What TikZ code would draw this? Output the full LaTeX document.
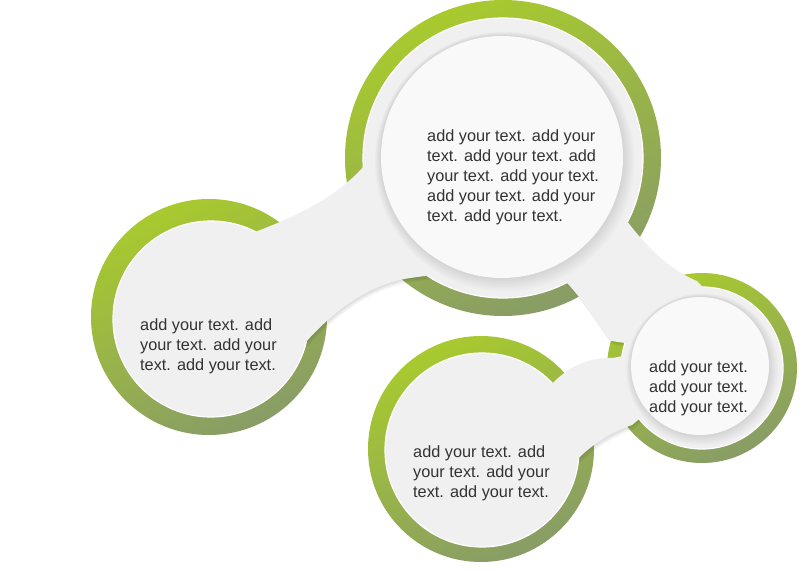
\documentclass[tikz,border=0pt]{standalone}
\usepackage{fontspec}
\setmainfont{Liberation Sans}
\definecolor{gA}{RGB}{168,202,46}
\definecolor{gB}{RGB}{136,156,102}
\definecolor{paper}{RGB}{240,240,240}
\definecolor{disc}{RGB}{249,249,249}
\definecolor{ink}{RGB}{51,51,51}
\tikzset{
  ring/.style={top color=gA, bottom color=gB, shading angle=25},
  lightdisc/.style={fill=paper, draw=white, line width=1.2pt},
  bandfill/.style={fill=paper},
  bandshadow/.style={fill=black, fill opacity=0.045},
  txt/.style={text=ink, align=left, anchor=west, inner sep=0pt,
              font=\fontsize{16.3}{19.9}\selectfont},
}
\newcommand\bandA{(245,236) .. controls (280,222) and (330,205) .. (365,165) -- (440,190) -- (455,272) -- (410,278) .. controls (365,285) and (330,315) .. (305,343) -- (250,300) -- cycle}
\newcommand\bandB{(600,200) -- (615,205) .. controls (640,240) and (665,268) .. (697,281) -- (715,300) -- (640,345) -- (611,341) .. controls (600,330) and (585,300) .. (562,278) -- (560,250) -- cycle}
\newcommand\bandC{(545,392) .. controls (565,366) and (590,357) .. (613,358) -- (650,350) -- (650,410) -- (632,425) .. controls (610,433) and (590,445) .. (572,465) -- (520,430) -- cycle}
\begin{document}
\begin{tikzpicture}[x=1pt,y=-1pt]
\useasboundingbox (0,0) rectangle (800,572);
\fill[white] (0,0) rectangle (800,572);
% centres
\coordinate (T) at (503,158);
\coordinate (Tw) at (502,157);
\coordinate (L) at (209,317);
\coordinate (Lg) at (211,319);
\coordinate (B) at (481,449);
\coordinate (Bg) at (482,450);
\coordinate (R) at (702,368);
\coordinate (Rw) at (700,366);
% green rings
\shade[ring] (T) circle[radius=158pt];
\shade[ring] (L) circle[radius=118pt];
\shade[ring] (B) circle[radius=113pt];
\shade[ring] (R) circle[radius=95pt];
% shadows of the connecting bands
\foreach \dx/\dy in {0.8/-1.2,1.6/-2.6,2.4/-4}{
  \begin{scope}[transform canvas={shift={(\dx pt,\dy pt)}}]
    \fill[bandshadow] \bandA;
    \fill[bandshadow] \bandB;
    \fill[bandshadow] \bandC;
  \end{scope}
}
% light discs
\path[lightdisc] (T) circle[radius=140pt];
\path[lightdisc] (Lg) circle[radius=98pt];
\path[lightdisc] (Bg) circle[radius=97pt];
\path[lightdisc] (R) circle[radius=81pt];
% bands
\fill[bandfill] \bandA;
\fill[bandfill] \bandB;
\fill[bandfill] \bandC;
% raised white circles with soft shadow
\foreach \k in {9,...,1}{
  \fill[black, fill opacity=0.010] ([shift={(0.3*\k pt,-0.5*\k pt)}]Tw) circle[radius={121pt+\k pt}];
  \fill[black, fill opacity=0.010] ([shift={(0.25*\k pt,-0.4*\k pt)}]Rw) circle[radius={69pt+0.8*\k pt}];
}
\fill[disc] (Tw) circle[radius=121pt];
\fill[disc] (Rw) circle[radius=69pt];
% texts
\node[txt] (tT) at (427,177.5) {add your text. add your\\text. add your text. add\\your text. add your text.\\add your text. add your\\text. add your text.};
\node[txt] (tL) at (140,346) {add your text. add\\your text. add your\\text. add your text.};
\node[txt] (tB) at (413,473) {add your text. add\\your text. add your\\text. add your text.};
\node[txt] (tR) at (649,388) {add your text.\\add your text.\\add your text.};
\end{tikzpicture}
\end{document}
